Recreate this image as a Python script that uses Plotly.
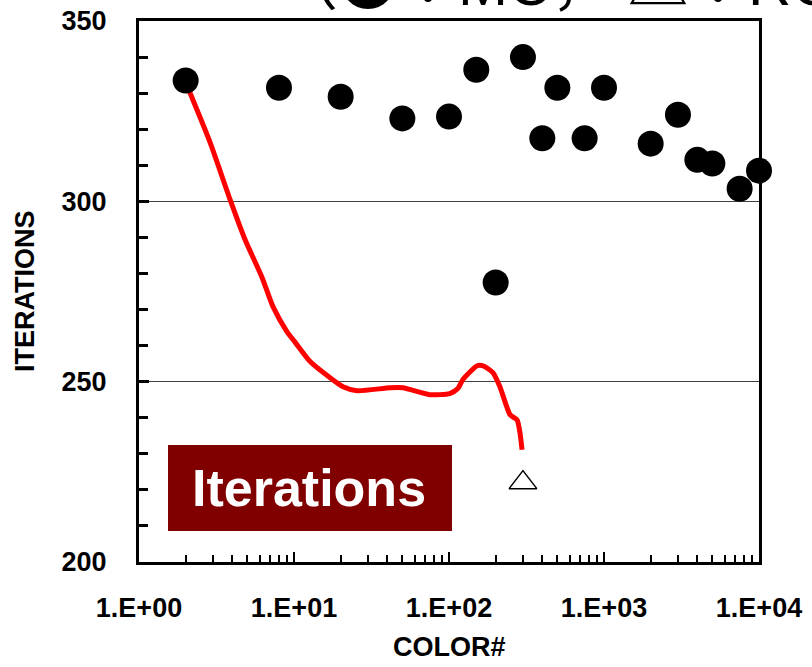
import plotly.graph_objects as go

# MC results (filled circles)
mc_colors = [2, 8, 20, 50, 100, 150, 200, 300, 400, 500, 750, 1000, 2000, 3000, 4000, 5000, 7500, 10000]
mc_iters = [333.5, 331.5, 329, 323, 323.5, 336.5, 277.5, 340, 317.5, 331.5, 317.5, 331.5, 316, 324, 311.5, 310.5, 303.5, 308.5]

# RCM result (open triangle)
rcm_colors = [300]
rcm_iters = [222]

# Trend curve (red)
trend_colors = [2, 2.87, 3.86, 4.83, 6.22, 7.32, 9.0, 10.1, 12.7, 17.1, 20.7, 25.5, 41.6, 50.5,
                75, 101, 114, 123, 152, 166, 192, 213, 248, 275, 287, 296]
trend_iters = [333, 316.4, 300.6, 289.4, 278.9, 270.8, 263.9, 261.1, 255.6, 251.1, 248.6, 247.5,
               248.3, 248.3, 246.4, 246.7, 248.1, 250.6, 254.4, 254.4, 252.5, 248.6, 240.8,
               239.4, 235.8, 231.1]

x_tickvals = [1, 10, 100, 1000, 10000]
x_ticktext = ["1.E+00", "1.E+01", "1.E+02", "1.E+03", "1.E+04"]
y_tickvals = [200, 250, 300, 350]

FONT = "Liberation Sans, Arial, sans-serif"
CJK = "'Noto Sans CJK JP'"

fig = go.Figure()
fig.add_trace(go.Scatter(x=trend_colors, y=trend_iters, mode="lines",
                         line=dict(color="#ff0000", width=5, shape="spline", smoothing=0.6),
                         showlegend=False, hoverinfo="skip"))
fig.add_trace(go.Scatter(x=mc_colors, y=mc_iters, mode="markers",
                         marker=dict(color="black", size=26),
                         cliponaxis=False, showlegend=False))
fig.add_trace(go.Scatter(x=rcm_colors, y=rcm_iters, mode="markers",
                         marker=dict(symbol="triangle-up-open", color="black", size=24,
                                     line=dict(width=1.5, color="black")),
                         cliponaxis=False, showlegend=False))

tickfont = dict(family=FONT, size=27, color="black", weight="bold")

fig.update_layout(
    width=812, height=667,
    margin=dict(l=139, r=53, t=21, b=105),
    paper_bgcolor="white", plot_bgcolor="white",
    showlegend=False,
    xaxis=dict(type="log", range=[0, 4], tickvals=x_tickvals, ticktext=x_ticktext,
               automargin=False,
               ticks="inside", ticklen=10, tickwidth=2, tickcolor="black",
               minor=dict(ticks="inside", ticklen=7, tickwidth=2, tickcolor="black",
                          dtick="D1", showgrid=False),
               showgrid=False, zeroline=False,
               showline=True, linewidth=3, linecolor="black", mirror=True,
               tickfont=tickfont, ticklabelstandoff=20),
    yaxis=dict(range=[200, 350], tickvals=y_tickvals, automargin=False,
               ticks="inside", ticklen=10, tickwidth=3, tickcolor="black",
               minor=dict(ticks="inside", ticklen=9, tickwidth=3, tickcolor="black",
                          dtick=10, showgrid=False),
               showgrid=True, gridcolor="#404040", gridwidth=1, zeroline=False,
               showline=True, linewidth=3, linecolor="black", mirror=True,
               tickfont=tickfont, ticklabelstandoff=24),
)

# Axis titles
fig.add_annotation(xref="paper", yref="paper", x=0.5016, y=-0.157, xanchor="center", yanchor="middle",
                   text="COLOR#", showarrow=False, font=tickfont)
fig.add_annotation(xref="paper", yref="paper", x=-0.1839, y=0.501, xanchor="center", yanchor="middle",
                   text="ITERATIONS", showarrow=False, textangle=-90, font=tickfont)

# Big (partially clipped) title
title_text = (f"<span style=\"font-family:{CJK}\">（●：</span>MC"
              f"<span style=\"font-family:{CJK}\">，</span> "
              f"<span style=\"font-family:{CJK}\">△：</span>RCM"
              f"<span style=\"font-family:{CJK}\">）</span>")
fig.add_annotation(xref="paper", yref="paper", x=0.221, y=0.995, xanchor="left", yanchor="bottom",
                   text=title_text, showarrow=False,
                   font=dict(family="Liberation Sans, Noto Sans CJK JP", size=60, color="black"))

# "Iterations" label box
fig.add_shape(type="rect", xref="paper", yref="paper", x0=0.0468, x1=0.5048, y0=0.0573, y1=0.2163,
              fillcolor="#800000", line=dict(width=0), layer="above")
fig.add_annotation(xref="paper", yref="paper", x=0.2734, y=0.1377, xanchor="center", yanchor="middle",
                   text="Iterations", showarrow=False,
                   font=dict(family=FONT, size=52, color="white", weight="bold"))

fig.write_html("out.html")
